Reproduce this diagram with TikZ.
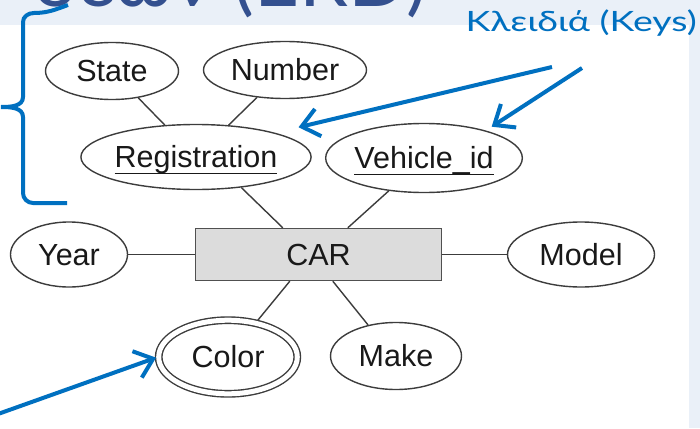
\documentclass[tikz,border=0pt]{standalone}
\usepackage{fontspec}
\setmainfont{Liberation Sans}
\newfontfamily\titlefont{Lato}
\usetikzlibrary{shapes.geometric,arrows.meta,calc}
\definecolor{bandbg}{HTML}{EAF0F8}
\definecolor{titleblue}{HTML}{34508F}
\definecolor{keyblue}{HTML}{0070C0}
\definecolor{inkgrey}{HTML}{3C3C3C}
\definecolor{entfill}{HTML}{DCDCDC}
% underlined key attribute name, rule kept out of the box depth
\newcommand\keyul[1]{\setbox0\hbox{#1}\rlap{\smash{\rule[-6.5pt]{\wd0}{1.4pt}}}\box0}
\begin{document}
\begin{tikzpicture}[x=1pt,y=-1pt,
  erfont/.style={font=\fontsize{30.5}{31}\selectfont,text=black!90,text height=21pt,text depth=0pt},
  attr/.style={ellipse,draw=inkgrey,line width=1.4pt,inner sep=0pt,erfont},
  entity/.style={rectangle,draw=inkgrey!90,fill=entfill,line width=1.4pt,inner sep=0pt,erfont},
  link/.style={draw=inkgrey,line width=1.4pt},
  keyarrow/.style={draw=keyblue,line width=4pt,-{Straight Barb[length=17pt,width=28pt]}},
]
\useasboundingbox (0,0) rectangle (700,428);
\fill[white] (0,0) rectangle (700,428);
\fill[bandbg] (0,0) rectangle (700,25);
\fill[bandbg] (689,25) rectangle (700,428);

% heading fragments
\node[anchor=base east,font=\titlefont\fontsize{78}{78}\selectfont,text=titleblue,inner sep=0pt] (title) at (427,7) {σεων (ERD)};
\node[anchor=base east,font=\titlefont\fontsize{28}{28}\selectfont,text=keyblue,inner sep=0pt] (keys) at (697,32) {\scalebox{1.34}[1]{Κλειδιά (Keys)}};

% attributes and entity
\node[attr,minimum width=133pt,minimum height=57pt] (state) at (112,71) {State};
\node[attr,minimum width=163pt,minimum height=57pt] (number) at (285,70) {Number};
\node[attr,minimum width=217pt,minimum height=65pt] (reg) at (196,157) {\keyul{Registration}};
\node[attr,minimum width=195pt,minimum height=69pt] (vid) at (424,158) {\keyul{Vehicle\_id}};
\node[entity,minimum width=246pt,minimum height=52pt] (car) at (318.5,254.5) {CAR};
\node[attr,minimum width=117pt,minimum height=65pt] (year) at (69,254.5) {Year};
\node[attr,minimum width=147pt,minimum height=65pt] (model) at (581,254.5) {Model};
\node[attr,double,double distance=5pt,minimum width=138.6pt,minimum height=73.6pt] (color) at (228,357) {Color};
\node[attr,minimum width=131pt,minimum height=67pt] (make) at (396,356) {Make};

% connectors
\draw[link] (state) -- (reg);
\draw[link] (number) -- (reg);
\draw[link] (reg.-34) -- ($(car.north west)+(88,0)$);
\draw[link] (vid.-137) -- ($(car.north west)+(153,0)$);
\draw[link] (year) -- (car);
\draw[link] (model) -- (car);
\draw[link,shorten <=3pt] (color.51) -- ($(car.south west)+(95,0)$);
\draw[link] (make.132) -- ($(car.south west)+(138,0)$);

% key pointers
\coordinate (k1) at (552,67);
\coordinate (k2) at (582,68);
\coordinate (k3) at (-2,414);
\draw[keyarrow,shorten >=24pt] (k1) -- (reg.17);
\draw[keyarrow,shorten >=7pt] (k2) -- (vid.24);
\draw[keyarrow,shorten >=2pt] (k3) -- (color.west);

% brace around the composite key
\draw[keyblue,line width=4pt]
  (68,5) to[out=200,in=0] (34,13) to[out=180,in=90] (23,22)
  -- (23,97) to[out=-90,in=0] (1,107) to[out=0,in=90] (23,117)
  -- (23,193) to[out=-90,in=180] (33,203) -- (67,203);
\end{tikzpicture}
\end{document}
